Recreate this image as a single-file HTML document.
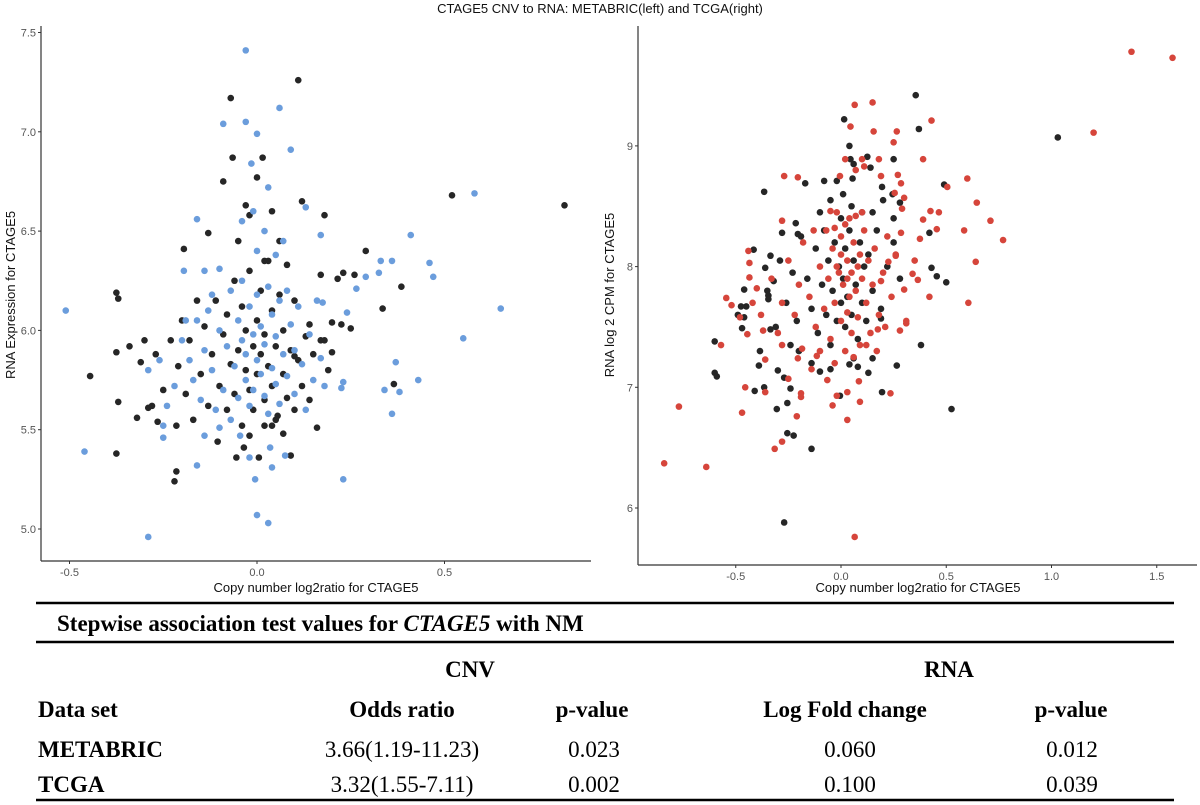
<!DOCTYPE html>
<html><head><meta charset="utf-8"><style>
html,body{margin:0;padding:0;background:#fff;}
svg{display:block;}
.tick{font-family:"Liberation Sans",sans-serif;font-size:11px;fill:#555;}
.atitle{font-family:"Liberation Sans",sans-serif;font-size:13px;fill:#111;}
.tb{font-family:"Liberation Serif",serif;font-weight:bold;font-size:23px;fill:#000;}
.tr{font-family:"Liberation Serif",serif;font-size:23px;fill:#000;}
</style></head><body>
<svg id="fig" width="1200" height="805" viewBox="0 0 1200 805" xmlns="http://www.w3.org/2000/svg">
<text x="600" y="13" text-anchor="middle" class="atitle">CTAGE5 CNV to RNA: METABRIC(left) and TCGA(right)</text>
<g id="left"></g>
<g id="right"></g>
<g>
<line x1="36" y1="603" x2="1174" y2="603" stroke="#000" stroke-width="2.5"/>
<text x="57" y="631" class="tb">Stepwise association test values for <tspan font-style="italic">CTAGE5</tspan> with NM</text>
<line x1="36" y1="642" x2="1174" y2="642" stroke="#000" stroke-width="2.5"/>
<text x="470" y="677" text-anchor="middle" class="tb">CNV</text>
<text x="949" y="677" text-anchor="middle" class="tb">RNA</text>
<text x="38" y="717" class="tb">Data set</text>
<text x="402" y="717" text-anchor="middle" class="tb">Odds ratio</text>
<text x="592" y="717" text-anchor="middle" class="tb">p-value</text>
<text x="845" y="717" text-anchor="middle" class="tb">Log Fold change</text>
<text x="1071" y="717" text-anchor="middle" class="tb">p-value</text>
<text x="38" y="757" class="tb">METABRIC</text>
<text x="402" y="757" text-anchor="middle" class="tr">3.66(1.19-11.23)</text>
<text x="594" y="757" text-anchor="middle" class="tr">0.023</text>
<text x="850" y="757" text-anchor="middle" class="tr">0.060</text>
<text x="1072" y="757" text-anchor="middle" class="tr">0.012</text>
<text x="38" y="792" class="tb">TCGA</text>
<text x="402" y="792" text-anchor="middle" class="tr">3.32(1.55-7.11)</text>
<text x="594" y="792" text-anchor="middle" class="tr">0.002</text>
<text x="850" y="792" text-anchor="middle" class="tr">0.100</text>
<text x="1072" y="792" text-anchor="middle" class="tr">0.039</text>
<line x1="36" y1="800" x2="1174" y2="800" stroke="#000" stroke-width="2.5"/>
</g>
</svg>
<script>
const leftXTicks = [-0.5, 0.0, 0.5];
const leftXTickLabels = ["-0.5", "0.0", "0.5"];
const leftYTicks = [5.0, 5.5, 6.0, 6.5, 7.0, 7.5];
const leftYTickLabels = ["5.0", "5.5", "6.0", "6.5", "7.0", "7.5"];
const rightXTicks = [-0.5, 0.0, 0.5, 1.0, 1.5];
const rightXTickLabels = ["-0.5", "0.0", "0.5", "1.0", "1.5"];
const rightYTicks = [6, 7, 8, 9];
const rightYTickLabels = ["6", "7", "8", "9"];

const metabricBlack = [
[0.11,7.26],[-0.07,7.17],[-0.065,6.87],[0.015,6.87],[-0.09,6.75],[0,6.77],[0.52,6.68],[0.82,6.63],[0.18,6.58],[0.12,6.65],[-0.13,6.49],[-0.195,6.41],[0.29,6.40],[0.385,6.22],[0.335,6.11],[0.25,6.01],[-0.375,6.19],[-0.37,6.16],[-0.375,5.89],[-0.34,5.92],[-0.445,5.77],[-0.37,5.64],[-0.375,5.38],[-0.22,5.24],[-0.215,5.29],[0.365,5.73],[0.16,5.51],[0.09,5.37],[-0.055,5.36],[0.005,5.36],[-0.035,5.41],[-0.105,5.44],[-0.30,5.95],[-0.31,5.84],[-0.32,5.56],[-0.29,5.61],[-0.265,5.54],[-0.215,5.52],[0.23,6.29],[0.26,6.28],[0.215,6.26],[0.17,6.28],[0.225,6.03],[0.20,6.04],[0.20,5.89],[0.18,5.95],[0.14,6.03],[0.10,5.87],[0.055,5.57],[0.07,5.48],[0.04,5.52],[0.02,5.52],[-0.02,5.47],
[-0.21,5.82],[-0.19,5.68],[-0.18,5.95],[-0.17,5.55],[-0.15,5.78],[-0.14,6.02],[-0.13,5.62],[-0.12,5.88],[-0.11,6.15],[-0.1,5.72],[-0.09,5.98],[-0.08,5.6],[-0.08,6.08],[-0.07,5.83],[-0.06,6.25],[-0.06,5.68],[-0.05,5.9],[-0.04,6.12],[-0.04,5.52],[-0.03,5.8],[-0.03,6.0],[-0.02,5.7],[-0.02,6.3],[-0.01,5.92],[-0.01,5.6],[0.0,6.05],[0.0,5.78],[0.01,5.88],[0.01,6.2],[0.02,5.65],[0.02,5.98],[0.03,5.82],[0.03,6.35],[0.04,5.72],[0.04,6.1],[0.05,5.55],[0.05,5.92],[0.06,6.18],[0.07,5.78],[0.07,6.0],[0.08,5.66],[0.09,5.9],[0.1,6.15],[0.1,5.6],[0.11,5.85],[0.12,5.72],[0.13,5.97],[0.14,5.65],[0.15,5.88],[0.17,5.95],[0.19,5.8],[-0.23,5.95],[-0.25,5.7],[-0.27,5.88],[-0.28,5.62],[-0.2,6.05],[-0.16,6.15],[0.06,6.45],[-0.02,6.58],[0.04,6.6],[-0.05,6.45],[0.02,6.35],[0.08,6.33],[-0.03,6.63]
];
const metabricBlue = [
[-0.03,7.41],[0.06,7.12],[-0.09,7.04],[-0.03,7.05],[0.00,6.99],[0.09,6.91],[-0.015,6.84],[0.03,6.72],[-0.16,6.56],[0.13,6.62],[0.17,6.48],[0.41,6.48],[0.58,6.69],[0.65,6.11],[-0.51,6.10],[0.55,5.96],[0.46,6.34],[0.47,6.27],[0.33,6.35],[0.36,6.35],[0.325,6.29],[0.29,6.27],[0.265,6.21],[0.24,6.09],[0.37,5.84],[0.38,5.69],[0.34,5.70],[0.43,5.75],[0.36,5.58],[0.23,5.74],[0.225,5.71],[0.23,5.25],[-0.46,5.39],[-0.29,4.96],[0.00,5.07],[0.03,5.03],[-0.005,5.25],[0.04,5.31],[-0.16,5.32],[-0.25,5.46],[-0.25,5.52],[-0.29,5.80],[-0.195,6.30],[-0.14,6.30],[-0.10,6.31],[-0.02,5.36],[0.075,5.37],[0.035,5.41],[-0.045,5.47],[-0.10,5.51],[-0.14,5.47],[0.175,6.14],
[-0.2,5.95],[-0.18,5.85],[-0.17,5.75],[-0.16,6.05],[-0.15,5.65],[-0.14,5.9],[-0.13,6.1],[-0.12,5.8],[-0.11,5.6],[-0.1,6.0],[-0.09,5.7],[-0.08,5.92],[-0.07,6.2],[-0.07,5.55],[-0.06,5.82],[-0.05,6.05],[-0.05,5.66],[-0.04,5.95],[-0.04,6.25],[-0.03,5.75],[-0.03,5.88],[-0.02,6.12],[-0.02,5.62],[-0.01,5.98],[-0.01,5.7],[0.0,5.85],[0.0,6.18],[0.01,5.78],[0.01,6.02],[0.02,5.67],[0.02,5.93],[0.03,6.22],[0.03,5.58],[0.04,5.81],[0.04,6.08],[0.05,5.73],[0.05,5.97],[0.06,6.15],[0.06,5.63],[0.07,5.88],[0.08,6.2],[0.08,5.77],[0.09,6.03],[0.1,5.68],[0.1,5.9],[0.11,6.12],[0.12,5.83],[0.13,5.6],[0.14,5.98],[0.15,5.75],[-0.22,5.72],[-0.24,5.62],[-0.26,5.85],[-0.19,6.05],[0.17,5.86],[0.18,5.72],[0.16,6.15],[-0.12,6.18],[0.0,6.4],[0.02,6.5],[-0.04,6.55],[0.05,6.38],[-0.01,6.6],[0.07,6.45]
];
const tcgaBlack = [
[0.355,9.42],[0.37,9.14],[1.03,9.07],[0.015,9.22],[0.04,9.0],[0.045,8.89],[0.125,8.91],[0.14,8.82],[0.06,8.85],[-0.365,8.62],[-0.17,8.69],[-0.08,8.71],[-0.02,8.71],[0.055,8.73],[0.195,8.66],[0.25,8.89],[0.245,8.60],[0.28,8.53],[0.49,8.68],[0.42,8.28],[0.43,7.99],[0.455,7.92],[0.50,7.87],[0.38,7.35],[0.525,6.82],[0.265,7.18],[0.19,7.57],[0.15,7.24],[0.13,7.12],[0.08,7.17],[0.06,7.24],[0.04,7.19],[0.195,6.96],[-0.005,6.93],[-0.05,7.15],[-0.10,7.13],[-0.14,6.49],[-0.255,6.62],[-0.225,6.60],[-0.255,6.87],[-0.305,6.82],[-0.24,6.99],[-0.27,7.08],[-0.30,7.14],[-0.27,5.88],[-0.41,6.97],[-0.365,7.00],[-0.39,7.18],[-0.385,7.30],[-0.6,7.12],[-0.59,7.09],[-0.6,7.38],[-0.47,7.49],[-0.46,7.58],[-0.49,7.60],[-0.475,7.67],[-0.45,7.67],[-0.46,7.81],[-0.415,8.14],[-0.36,7.99],[-0.335,8.09],[-0.345,7.76],[-0.345,7.73],[-0.32,7.88],[-0.335,7.48],[-0.28,8.28],[-0.215,8.36],[-0.205,8.27],
[-0.16,7.9],[-0.14,7.65],[-0.12,8.15],[-0.11,7.45],[-0.09,7.85],[-0.08,8.3],[-0.07,7.6],[-0.06,8.05],[-0.05,7.35],[-0.04,7.8],[-0.03,8.2],[-0.02,7.55],[-0.01,8.0],[0.0,7.7],[0.0,8.4],[0.01,7.9],[0.02,7.5],[0.02,8.15],[0.03,7.75],[0.04,8.3],[0.05,7.6],[0.06,8.05],[0.07,7.85],[0.08,7.4],[0.09,8.2],[0.1,7.7],[0.11,8.0],[0.12,7.55],[0.13,8.1],[0.15,7.8],[0.17,8.3],[0.19,7.65],[0.22,8.0],[0.25,8.2],[0.28,7.9],[-0.19,8.25],[-0.21,7.55],[-0.23,7.95],[-0.26,7.7],[-0.29,8.05],[-0.31,7.5],[-0.35,7.8],[-0.2,7.3],[-0.24,7.35],[-0.14,7.2],[0.01,8.6],[0.05,8.5],[-0.05,8.55],[0.1,8.45],[0.15,8.45],[-0.1,8.45],[0.2,8.55],[0.25,8.4]
];
const tcgaRed = [
[1.38,9.78],[1.575,9.73],[1.20,9.11],[-0.84,6.37],[-0.77,6.84],[-0.64,6.34],[0.065,5.76],[0.15,9.36],[0.065,9.34],[0.43,9.21],[0.045,9.16],[0.155,9.12],[0.265,9.12],[0.25,9.03],[0.39,8.89],[0.6,8.73],[0.505,8.66],[0.645,8.53],[0.71,8.38],[0.77,8.22],[0.585,8.30],[0.64,8.04],[0.605,7.70],[0.42,7.75],[0.465,8.45],[0.425,8.46],[0.455,8.31],[0.39,8.39],[0.375,8.23],[0.365,7.89],[0.35,8.05],[0.34,7.94],[0.31,7.53],[0.30,7.81],[-0.545,7.74],[-0.52,7.68],[-0.57,7.35],[-0.455,7.00],[-0.47,6.79],[-0.315,6.49],[-0.28,6.55],[-0.21,6.76],[-0.19,6.92],[-0.04,6.85],[0.03,6.73],[0.085,7.05],[0.235,6.95],[-0.27,8.75],[-0.205,8.74],[-0.28,8.38],[-0.44,8.13],[-0.435,8.03],[-0.435,7.91],[-0.40,7.82],[-0.445,7.44],[-0.37,7.47],[-0.36,7.23],[-0.36,6.96],[-0.28,7.35],[-0.205,7.24],[-0.185,7.32],[-0.25,7.07],[-0.14,7.15],[-0.115,7.26],[-0.19,6.95],[-0.065,7.06],[-0.02,6.93],[0.03,6.96],[0.09,6.88],[0.175,7.48],[0.31,7.55],[0.28,7.47],[0.19,7.88],[0.225,8.04],[0.26,8.09],[0.285,8.28],[0.29,8.48],[0.30,8.57],[0.255,8.61],[0.285,8.69],[0.27,8.76],[0.19,8.75],[0.18,8.89],[0.1,8.89],[0.02,8.89],[0.07,8.80],[0.11,8.83],[-0.005,8.75],[-0.05,8.46],[-0.03,8.32],
[-0.15,7.75],[-0.12,7.5],[-0.1,8.0],[-0.08,7.65],[-0.07,8.3],[-0.06,7.9],[-0.05,7.4],[-0.04,8.15],[-0.03,7.7],[-0.02,8.45],[-0.01,7.95],[0.0,8.1],[0.0,7.55],[0.01,7.85],[0.02,8.35],[0.02,7.3],[0.03,8.05],[0.03,7.62],[0.04,8.4],[0.05,7.95],[0.05,7.45],[0.06,8.2],[0.07,7.8],[0.07,8.42],[0.08,7.58],[0.09,8.1],[0.09,7.35],[0.1,7.9],[0.11,8.3],[0.12,7.7],[0.13,8.05],[0.14,7.45],[0.15,7.85],[0.16,8.15],[0.18,7.6],[0.2,7.95],[0.22,8.25],[0.24,7.75],[-0.2,7.85],[-0.22,7.6],[-0.25,8.05],[-0.28,7.7],[-0.3,7.45],[-0.33,7.9],[-0.18,8.2],[-0.13,8.3],[0.0,8.25],[0.04,7.75],[0.1,8.45],[-0.03,7.2],[0.06,7.25],[0.12,7.35],[0.17,7.3],[-0.1,7.3],[-0.38,7.6],[-0.42,7.7],[-0.48,7.58],[0.26,8.1],[0.21,7.5],[0.08,8.0],[0.03,7.9],[-0.02,8.0]
];

const NS = "http://www.w3.org/2000/svg";
function mk(tag, attrs, parent) {
  const e = document.createElementNS(NS, tag);
  for (const k in attrs) e.setAttribute(k, attrs[k]);
  parent.appendChild(e);
  return e;
}
// axis functions
const lx = v => 257 + v * 375;
const ly = v => 529 - (v - 5) * 198.6;
const rx = v => 841 + v * 210.5;
const ry = v => 508 - (v - 6) * 120.7;

function panel(g, cfg) {
  const ax = mk("line", {x1: cfg.x0, y1: cfg.ytop, x2: cfg.x0, y2: cfg.y0, stroke: "#333", "stroke-width": 1.2}, g);
  
  
  const bx = mk("line", {x1: cfg.x0, y1: cfg.y0, x2: cfg.xend, y2: cfg.y0, stroke: "#333", "stroke-width": 1.2}, g);
  
  
  cfg.xt.forEach((v, i) => {
    const x = cfg.fx(v);
    const t = mk("line", {x1: x, y1: cfg.y0, x2: x, y2: cfg.y0 + 3, stroke: "#333"}, g);
    
    
    const l = mk("text", {x: x, y: cfg.y0 + 15, "text-anchor": "middle", class: "tick"}, g);
    l.textContent = cfg.xl[i];
    
    
  });
  cfg.yt.forEach((v, i) => {
    const y = cfg.fy(v);
    const t = mk("line", {x1: cfg.x0 - 3, y1: y, x2: cfg.x0, y2: y, stroke: "#333"}, g);
    
    
    const l = mk("text", {x: cfg.x0 - 5, y: y + 4, "text-anchor": "end", class: "tick"}, g);
    l.textContent = cfg.yl[i];
    
    
  });
  const xt = mk("text", {x: cfg.xtx, y: 592, "text-anchor": "middle", class: "atitle"}, g);
  xt.textContent = cfg.xtitle;
  
  
  const yt = mk("text", {x: 0, y: 0, "text-anchor": "middle", class: "atitle", transform: "translate(" + cfg.ytx + ",295) rotate(-90)"}, g);
  yt.textContent = cfg.ytitle;
  
  
  cfg.series.forEach(s => {
    s.data.forEach(p => {
      const c = mk("circle", {cx: cfg.fx(p[0]), cy: cfg.fy(p[1]), r: 3.3, fill: s.color}, g);
      
      
    });
  });
}
panel(document.getElementById("left"), {
  x0: 41, y0: 561, ytop: 26, xend: 591, fx: lx, fy: ly,
  xt: leftXTicks, xl: leftXTickLabels, yt: leftYTicks, yl: leftYTickLabels,
  xtx: 316, ytx: 15, xtitle: "Copy number log2ratio for CTAGE5", ytitle: "RNA Expression for CTAGE5",
  series: [{data: metabricBlack, color: "#262626", name: "metabric-black-point"}, {data: metabricBlue, color: "#6b9ddc", name: "metabric-blue-point"}]
});
panel(document.getElementById("right"), {
  x0: 638, y0: 565, ytop: 26, xend: 1197, fx: rx, fy: ry,
  xt: rightXTicks, xl: rightXTickLabels, yt: rightYTicks, yl: rightYTickLabels,
  xtx: 918, ytx: 614, xtitle: "Copy number log2ratio for CTAGE5", ytitle: "RNA log 2 CPM for CTAGE5",
  series: [{data: tcgaBlack, color: "#262626", name: "tcga-black-point"}, {data: tcgaRed, color: "#d6453b", name: "tcga-red-point"}]
});
</script>
</body></html>
